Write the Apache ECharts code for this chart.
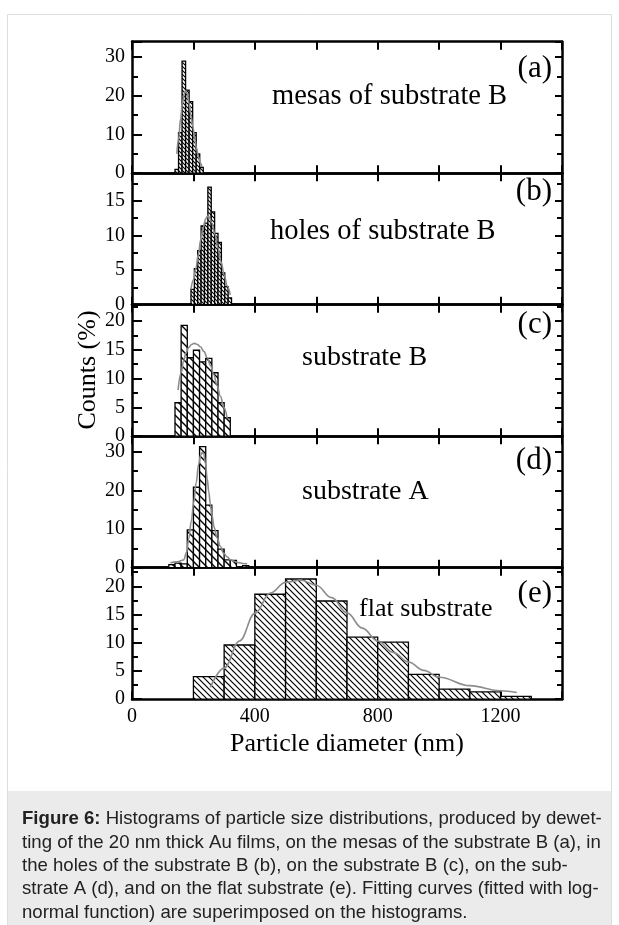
<!DOCTYPE html>
<html><head><meta charset="utf-8">
<script src="https://cdn.jsdelivr.net/npm/echarts@6/dist/echarts.min.js"></script>
<style>html,body{margin:0;padding:0;background:#fff}#c{width:619px;height:925px}</style>
</head><body><div id="c"></div>
<script>
// ---------- data ----------
const panelLetters = ['(a)', '(b)', '(c)', '(d)', '(e)'];
const panelNames = ['mesas of substrate B', 'holes of substrate B', 'substrate B', 'substrate A', 'flat substrate'];
const xTickLabels = [0, 400, 800, 1200];
const yMaxes = [34, 19, 22.8, 34, 23.3];
const yIntervals = [10, 5, 5, 10, 5];

// histogram bin edges (nm) and counts (%)
const edgesA = [140, 151.5, 163, 174.5, 186, 197.5, 209, 220.5, 232];
const countsA = [1, 10.5, 29, 21.5, 18.5, 10.5, 5, 1.5];
const edgesB = [192, 203, 214, 225, 236, 247, 258, 269, 280, 291, 302, 313, 324];
const countsB = [2.2, 5.2, 7.8, 11.4, 11.8, 17, 13.4, 10.3, 9, 4.6, 2.6, 1];
const edgesC = [140, 160, 180, 200, 220, 240, 260, 280, 300, 320];
const countsC = [5.8, 19.2, 13.6, 14.9, 12.9, 13.5, 11.0, 5.8, 3.2];
const edgesD = [120, 140, 160, 180, 200, 220, 240, 260, 280, 300, 320, 340, 360, 380];
const countsD = [0.8, 1.2, 1.0, 9.8, 20.8, 31.3, 16.2, 9.6, 4.8, 2.0, 1.9, 0, 0.5];
const edgesE = [200, 300, 400, 500, 600, 700, 800, 900, 1000, 1100, 1200, 1300];
const countsE = [4.0, 9.6, 18.6, 21.3, 17.4, 11.0, 10.1, 4.4, 1.8, 1.3, 0.5];

// log-normal fit curves
const fitXA = [146, 152, 158, 164, 170, 175, 180, 186, 192, 198, 204, 210, 216, 222, 228];
const fitYA = [5, 9, 14, 18, 20.5, 21.3, 20.5, 18, 15, 12, 9, 6.5, 4.3, 2.7, 1.6];
const fitXB = [192, 200, 208, 216, 224, 232, 240, 246, 252, 260, 270, 280, 290, 300, 310, 320];
const fitYB = [2.2, 3.6, 5.3, 7.3, 9.4, 11.2, 12.4, 12.8, 12.6, 11.8, 10.2, 8.2, 6.2, 4.3, 2.7, 1.4];
const fitXC = [150, 160, 168, 176, 185, 194, 203, 213, 223, 234, 245, 256, 266, 277, 288, 299, 310];
const fitYC = [8, 11, 13.1, 14.5, 15.4, 15.9, 16.1, 15.9, 15.5, 14.7, 13.6, 12.2, 10.7, 8.8, 6.9, 5, 3.1];
const fitXD = [125, 145, 168, 178, 185, 193, 201, 209, 217, 223, 228, 234, 239, 245, 250, 255, 260, 268, 277, 288, 298, 310, 320, 335, 347, 360, 375];
const fitYD = [1.3, 1.5, 2, 4, 7.6, 12, 17, 22, 26.8, 29, 29.8, 29.3, 27, 23, 19.6, 16.5, 13.6, 10.3, 7.7, 5.5, 3.8, 2.8, 2.1, 1.6, 1.3, 1.1, 1];
const fitXE = [255, 300, 350, 400, 450, 500, 550, 600, 650, 700, 750, 800, 850, 900, 950, 1000, 1100, 1200, 1253];
const fitYE = [2.1, 5.5, 10.3, 15.2, 18.8, 20.7, 21.1, 20.2, 18.0, 15.3, 12.6, 10.3, 8.3, 6.6, 5.1, 3.9, 2.4, 1.5, 1.2];

const captionLines = [
  '{b|Figure 6:} Histograms of particle size distributions, produced by dewet-',
  'ting of the 20 nm thick Au films, on the mesas of the substrate B (a), in',
  'the holes of the substrate B (b), on the substrate B (c), on the sub-',
  'strate A (d), and on the flat substrate (e). Fitting curves (fitted with log-',
  'normal function) are superimposed on the histograms.'
];

// ---------- build ----------
const allEdges = [edgesA, edgesB, edgesC, edgesD, edgesE];
const allCounts = [countsA, countsB, countsC, countsD, countsE];
const allFitX = [fitXA, fitXB, fitXC, fitXD, fitXE];
const allFitY = [fitYA, fitYB, fitYC, fitYD, fitYE];

function makeHatch(period, lw) {
  const c = document.createElement('canvas');
  c.width = period; c.height = period;
  const g = c.getContext('2d');
  g.fillStyle = '#fff'; g.fillRect(0, 0, period, period);
  g.strokeStyle = '#000'; g.lineWidth = lw;
  g.beginPath();
  for (let k = -1; k <= 1; k++) {
    g.moveTo(-1, k * period - 1);
    g.lineTo(period + 1, period + k * period + 1);
  }
  g.stroke();
  return c;
}
const hatchPeriods = [4, 4, 8, 8, 6];
const hatchWidths = [1.1, 1.1, 1.4, 1.4, 1.2];

const serif = "'Liberation Serif','Times New Roman',serif";
const sans = "'Liberation Sans',Arial,sans-serif";
const GRID_LEFT = 132, GRID_W = 430, GRID_TOP = 41.7, GRID_H = 131.5;

const grids = [], xAxes = [], yAxes = [], series = [];
for (let i = 0; i < 5; i++) {
  grids.push({ left: GRID_LEFT, width: GRID_W, top: GRID_TOP + i * GRID_H, height: GRID_H });
  const isLast = i === 4;
  const xCommon = {
    type: 'value', gridIndex: i, min: 0, max: 1400, interval: 200,
    splitLine: { show: false },
    axisLine: { show: true, onZero: false, lineStyle: { color: '#000', width: 2.5 } },
    axisTick: { show: true, inside: true, length: 8, lineStyle: { color: '#000', width: 2 } }
  };
  xAxes.push(Object.assign({}, xCommon, {
    position: 'bottom',
    axisLabel: {
      show: isLast, margin: 8, color: '#000', fontFamily: serif, fontSize: 20,
      formatter: v => xTickLabels.includes(v) ? String(v) : ''
    },
    name: isLast ? 'Particle diameter (nm)' : '',
    nameLocation: 'middle', nameGap: 32,
    nameTextStyle: { color: '#000', fontFamily: serif, fontSize: 26 }
  }));
  xAxes.push(Object.assign({}, xCommon, { position: 'top', axisLabel: { show: false } }));
  const iv = yIntervals[i];
  yAxes.push({
    type: 'value', gridIndex: i, min: 0, max: yMaxes[i], interval: iv, position: 'left',
    splitLine: { show: false },
    axisLine: { show: true, onZero: false, lineStyle: { color: '#000', width: 2.5 } },
    axisTick: { show: true, inside: true, length: 10, lineStyle: { color: '#000', width: 2 } },
    minorTick: { show: true, splitNumber: 2, length: 6, lineStyle: { color: '#000', width: 2 } },
    axisLabel: {
      margin: 7, color: '#000', fontFamily: serif, fontSize: 20, showMaxLabel: false,
      formatter: v => (Math.abs(v / iv - Math.round(v / iv)) < 1e-6) ? String(v) : ''
    }
  });
  yAxes.push({
    type: 'value', gridIndex: i, min: 0, max: yMaxes[i], interval: iv, position: 'right',
    splitLine: { show: false },
    axisLine: { show: true, onZero: false, lineStyle: { color: '#000', width: 2.5 } },
    axisTick: { show: true, inside: true, length: 7, lineStyle: { color: '#000', width: 2 } },
    minorTick: { show: true, splitNumber: 2, length: 5, lineStyle: { color: '#000', width: 2 } },
    axisLabel: { show: false }
  });

  const edges = allEdges[i], counts = allCounts[i];
  const barData = counts.map((c, k) => [edges[k], edges[k + 1], c]);
  const pattern = { image: makeHatch(hatchPeriods[i], hatchWidths[i]), repeat: 'repeat' };
  series.push({
    type: 'custom', xAxisIndex: 2 * i, yAxisIndex: 2 * i,
    encode: { x: [0, 1], y: 2 },
    data: barData, z: 2,
    renderItem: (params, api) => {
      const x0 = api.value(0), x1 = api.value(1), y = api.value(2);
      if (y <= 0) return null;
      const p0 = api.coord([x0, 0]), p1 = api.coord([x1, y]);
      return {
        type: 'rect',
        shape: { x: p0[0], y: p1[1], width: p1[0] - p0[0], height: p0[1] - p1[1] },
        style: { fill: pattern, stroke: '#000', lineWidth: 1.3 }
      };
    }
  });
  series.push({
    type: 'line', xAxisIndex: 2 * i, yAxisIndex: 2 * i, z: 5,
    data: allFitX[i].map((x, k) => [x, allFitY[i][k]]),
    smooth: 0.4, smoothMonotone: 'x', showSymbol: false, symbol: 'none',
    lineStyle: { color: '#8c8c8c', width: 1.6 }
  });
}

const letterY = [69, 192, 325, 461, 594];
const nameY = [97, 232, 358, 492, 609];
const nameX = [272, 270, 302, 302, 359];
const nameSize = [28.5, 28.5, 28, 28, 26];
const graphics = [
  { type: 'rect', z: -10, shape: { x: 7.5, y: 14.5, width: 604, height: 930 }, style: { fill: '#fff', stroke: '#dedede', lineWidth: 1 } },
  { type: 'rect', z: -9, shape: { x: 8, y: 791, width: 603, height: 140 }, style: { fill: '#ebebeb' } }
];
for (let i = 0; i < 5; i++) {
  graphics.push({
    type: 'text', x: 552, y: letterY[i], z: 100,
    style: { text: panelLetters[i], fontFamily: serif, fontSize: 31, fill: '#000', textAlign: 'right', textVerticalAlign: 'middle' }
  });
  graphics.push({
    type: 'text', x: nameX[i], y: nameY[i], z: 100,
    style: { text: panelNames[i], fontFamily: serif, fontSize: nameSize[i], fill: '#000', textAlign: 'left', textVerticalAlign: 'middle' }
  });
}
graphics.push({
  type: 'text', x: 88, y: 370, rotation: Math.PI / 2, z: 100,
  style: { text: 'Counts (%)', fontFamily: serif, fontSize: 26, fill: '#000', textAlign: 'center', textVerticalAlign: 'middle' }
});
captionLines.forEach((t, k) => {
  graphics.push({
    type: 'text', x: 22, y: 819 + k * 23.4, z: 100,
    style: {
      text: t, fontFamily: sans, fontSize: 18.6, fill: '#222',
      textAlign: 'left', textVerticalAlign: 'middle',
      rich: { b: { fontFamily: sans, fontSize: 18.6, fontWeight: 'bold', fill: '#222' } }
    }
  });
});

const chart = echarts.init(document.getElementById('c'), null, { renderer: 'canvas' });
chart.setOption({
  animation: false,
  backgroundColor: '#fff',
  grid: grids, xAxis: xAxes, yAxis: yAxes, series: series,
  graphic: graphics
});
</script></body></html>
